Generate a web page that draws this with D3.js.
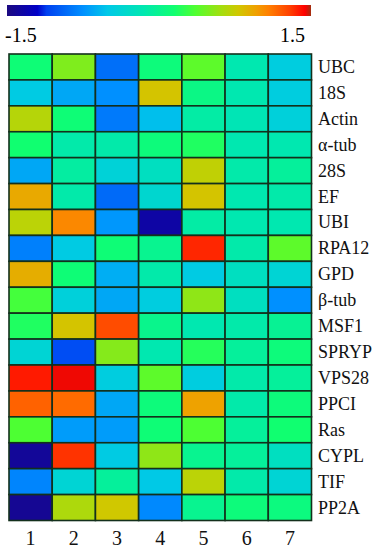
<!DOCTYPE html>
<html><head><meta charset="utf-8">
<script src="https://cdn.jsdelivr.net/npm/d3@7"></script>
<style>body{margin:0;background:#fff}svg{display:block}</style>
</head><body>
<script>
const genes = ["UBC","18S","Actin","α-tub","28S","EF","UBI","RPA12","GPD","β-tub","MSF1","SPRYP","VPS28","PPCI","Ras","CYPL","TIF","PP2A"];
const samples = ["1","2","3","4","5","6","7"];
const values = [
  [0.12, 0.5, -0.9, 0.1, 0.4, -0.15, -0.45],
  [-0.48, -0.65, -0.75, 0.8, 0.05, -0.15, -0.45],
  [0.68, 0.12, -0.85, -0.55, -0.1, -0.18, -0.42],
  [0.15, -0.12, -0.12, 0.1, 0.2, -0.15, -0.15],
  [-0.65, -0.08, -0.4, -0.25, 0.72, -0.12, -0.05],
  [0.92, -0.12, -0.92, -0.35, 0.8, -0.15, -0.12],
  [0.7, 1.05, -0.72, -1.35, -0.1, -0.15, -0.15],
  [-0.82, -0.48, 0.12, 0.0, 1.35, -0.12, 0.4],
  [0.9, 0.12, -0.62, -0.12, -0.48, -0.25, -0.38],
  [0.32, -0.42, -0.65, -0.45, 0.55, -0.25, -0.75],
  [0.2, 0.8, 1.25, 0.02, -0.15, -0.12, -0.02],
  [-0.38, -1.05, 0.52, -0.15, 0.22, -0.05, 0.1],
  [1.38, 1.45, -0.45, 0.4, -0.45, -0.12, -0.05],
  [1.18, 1.15, -0.65, 0.1, 0.95, -0.12, 0.1],
  [0.35, -0.7, -0.7, 0.12, 0.35, -0.05, 0.15],
  [-1.4, 1.32, -0.48, 0.55, 0.0, -0.05, -0.25],
  [-0.8, -0.38, -0.05, -0.5, 0.7, -0.12, -0.38],
  [-1.42, 0.65, 0.78, -0.78, 0.0, 0.1, 0.08]
];
const domainMin = -1.5, domainMax = 1.5;
const scaleTicks = ["-1.5","1.5"];

const stopT = [0,0.10,0.13,0.25,0.33,0.45,0.55,0.62,0.70,0.76,0.82,0.86,0.93,0.98,1.0];
const stopC = ["#1c0a80","#0000c8","#0040f0","#0090ff","#00c8e8","#00e8b0","#10ff70","#50ff30","#a0e010","#d0c800","#f0a000","#ff8000","#ff4000","#ff0000","#a03010"];

const W = 379, H = 550;
const svg = d3.select("body").append("svg").attr("width", W).attr("height", H);

const tScale = d3.scaleLinear().domain([domainMin, domainMax]).range([0,1]);
const cInterp = d3.scaleLinear().domain(stopT).range(stopC).interpolate(d3.interpolateRgb).clamp(true);
const color = v => cInterp(tScale(v));

// colorbar
const cbX0 = 7, cbX1 = 311, cbY = 5, cbH = 11;
const defs = svg.append("defs");
const grad = defs.append("linearGradient").attr("id","cb").attr("x1","0%").attr("x2","100%");
stopT.forEach((t,i)=>grad.append("stop").attr("offset", (t*100)+"%").attr("stop-color", stopC[i]));
svg.append("rect").attr("x",cbX0).attr("y",cbY).attr("width",cbX1-cbX0).attr("height",cbH).attr("fill","url(#cb)");
svg.append("text").attr("x",5).attr("y",42).attr("font-family","Liberation Serif, Times New Roman, serif").attr("font-size",20).text(scaleTicks[0]);
svg.append("text").attr("x",305).attr("y",42).attr("text-anchor","end").attr("font-family","Liberation Serif, Times New Roman, serif").attr("font-size",20).text(scaleTicks[1]);

// heatmap
const x = d3.scaleBand().domain(samples).range([9, 311.5]).padding(0);
const y = d3.scaleBand().domain(genes).range([54, 520.5]).padding(0);

const cells = [];
values.forEach((row,i)=>row.forEach((v,j)=>cells.push({g:genes[i], s:samples[j], v})));
svg.append("g").selectAll("rect").data(cells).join("rect")
  .attr("x", d=>x(d.s)).attr("y", d=>y(d.g))
  .attr("width", x.bandwidth()).attr("height", y.bandwidth())
  .attr("fill", d=>color(d.v))
  .attr("stroke","#13301c").attr("stroke-width",1.6);

// row labels
svg.append("g").selectAll("text").data(genes).join("text")
  .attr("x", 318).attr("y", d=>y(d)+y.bandwidth()/2+6)
  .attr("font-family","Liberation Serif, Times New Roman, serif").attr("font-size",18)
  .attr("fill","#111").text(d=>d);

// column labels
svg.append("g").selectAll("text").data(samples).join("text")
  .attr("x", d=>x(d)+x.bandwidth()/2).attr("y", 545)
  .attr("text-anchor","middle")
  .attr("font-family","Liberation Serif, Times New Roman, serif").attr("font-size",20)
  .attr("fill","#111").text(d=>d);
</script>
</body></html>
